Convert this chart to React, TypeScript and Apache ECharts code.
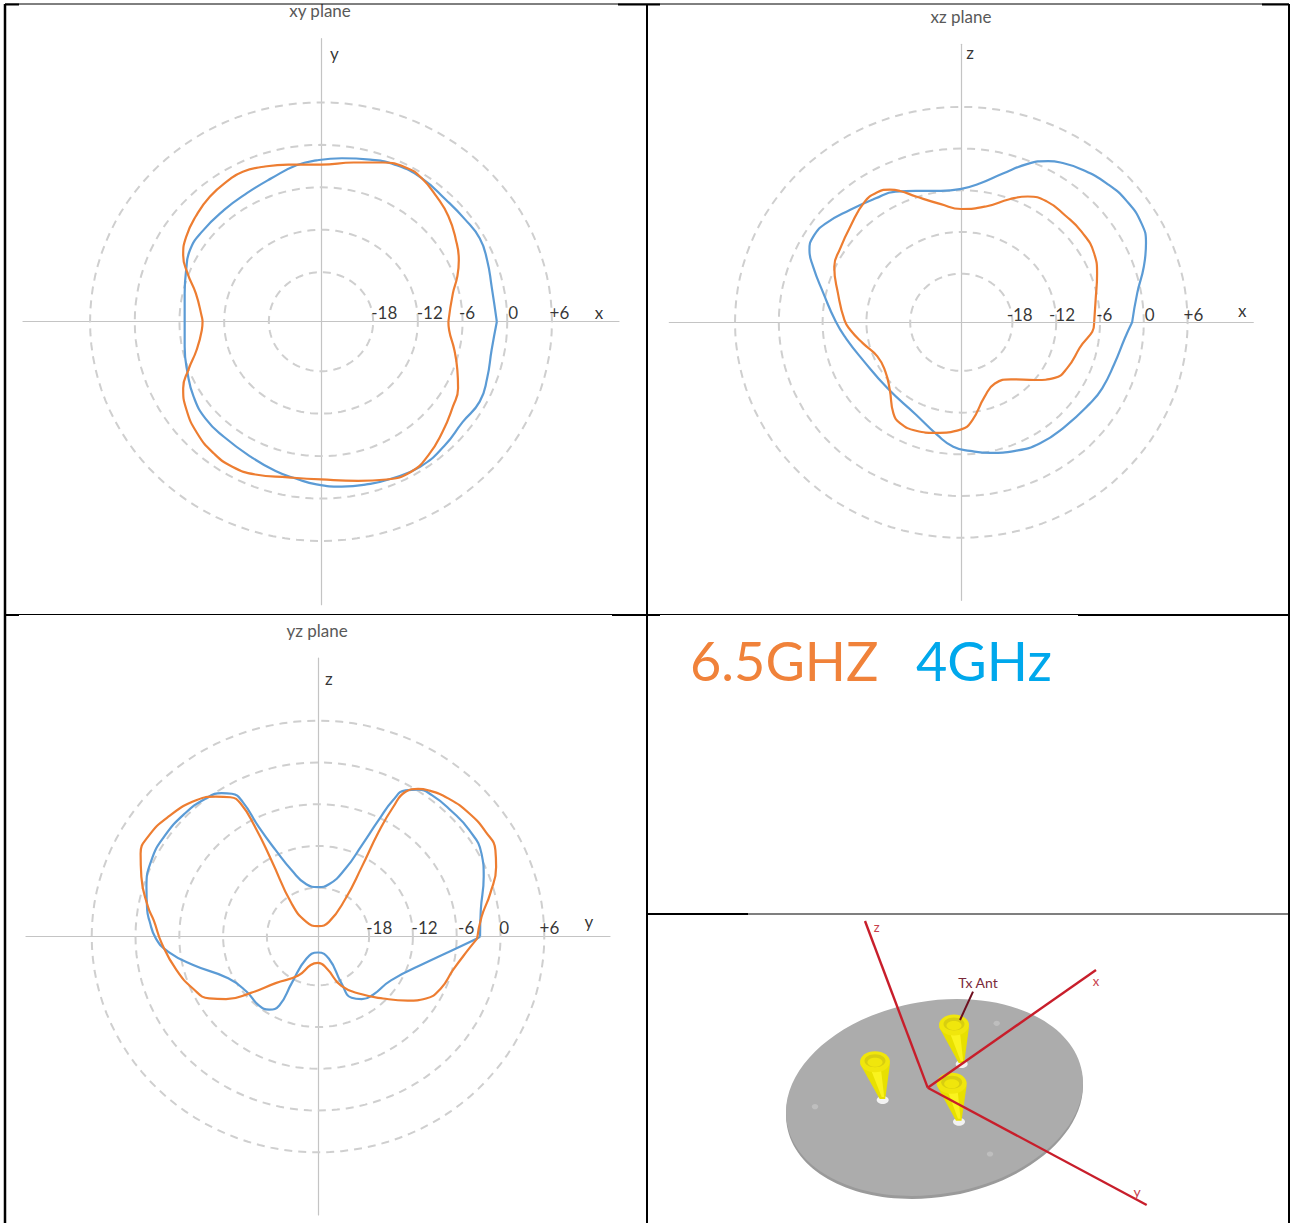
import React, { useEffect, useRef } from "react";
import * as echarts from "echarts";

// Every curve point is [x, y] in dB above the -25 dB centre of the pattern.
const xyBlue = [[23.6,0],[22.9,5.0],[22.3,8.7],[21.3,11.8],[19.3,14.5],[16.8,17.2],[13.5,20.3],[9.9,22.2],[6.6,22.9],[2.8,23.1],[-0.6,22.8],[-3.3,22.1],[-6.6,20.3],[-9.9,18.2],[-13.0,15.8],[-16.0,12.7],[-17.6,10.1],[-18.1,7.3],[-18.3,4.0],[-18.3,0],[-18.3,-3.5],[-17.9,-7.3],[-17.1,-10.6],[-15.5,-13.7],[-13.0,-16.3],[-9.4,-19.1],[-6.1,-21.1],[-3.3,-22.2],[-0.6,-23.0],[2.8,-23.3],[6.1,-23.0],[9.4,-22.2],[13.3,-20.5],[16.6,-17.5],[19.0,-14.2],[21.3,-11.3],[22.3,-8.0],[22.9,-4.0],[23.6,0]];
const xyOrange = [[17.1,0],[17.7,4.0],[18.3,6.4],[18.5,8.7],[18.1,11.6],[17.1,14.9],[15.5,17.7],[13.5,20.3],[11.6,21.7],[8.3,22.5],[4.4,22.5],[0,22.2],[-4.4,22.2],[-7.7,21.9],[-10.5,21.2],[-12.4,20.0],[-14.9,17.7],[-16.8,14.9],[-18.1,12.0],[-18.5,9.4],[-17.9,6.8],[-16.8,4.0],[-16.0,0.7],[-15.9,0],[-16.0,-1.2],[-16.7,-4.0],[-17.8,-6.8],[-18.5,-9.4],[-18.1,-12.3],[-16.6,-15.8],[-14.4,-18.6],[-11.9,-20.5],[-8.8,-21.6],[-4.4,-22.0],[0,-22.3],[5.0,-22.5],[8.8,-22.3],[12.1,-21.2],[14.4,-18.9],[16.3,-15.6],[17.7,-12.0],[18.4,-9.4],[18.3,-6.8],[17.9,-4.0],[17.2,-1.2],[17.1,0]];
const xzBlue = [[23.4,0],[24.1,4.2],[25.0,8.0],[25.3,11.4],[24.7,14.2],[22.7,17.4],[19.9,20.0],[16.5,22.0],[13.6,23.0],[11.9,23.2],[9.1,22.8],[5.7,21.4],[2.6,20.0],[0,19.2],[-2.8,18.9],[-6.2,18.9],[-9.0,18.8],[-11.8,17.8],[-15.2,16.2],[-18.6,14.2],[-20.3,12.3],[-20.8,10.4],[-20.3,8.0],[-18.9,4.2],[-17.2,0.1],[-15.8,-2.3],[-13.5,-5.4],[-10.1,-9.5],[-6.2,-13.3],[-3.3,-16.2],[-1.1,-17.9],[1.2,-18.5],[4.0,-18.8],[7.4,-18.5],[10.8,-17.4],[14.2,-15.0],[17.6,-11.7],[19.3,-9.5],[21.0,-5.9],[22.4,-2.3],[23.4,0]];
const xzOrange = [[18.2,0],[18.4,3.2],[18.6,7.0],[18.2,9.9],[16.5,13.0],[14.2,15.4],[11.7,17.4],[9.1,18.1],[6.6,17.7],[3.5,16.7],[0,16.3],[-2.8,17.0],[-6.2,18.1],[-8.4,18.9],[-9.8,19.1],[-11.5,18.7],[-13.2,17.4],[-15.2,13.8],[-16.6,10.6],[-17.4,8.0],[-16.9,4.2],[-16.0,0.3],[-15.2,-1.1],[-13.5,-3.0],[-11.5,-4.9],[-10.4,-7.1],[-9.8,-9.7],[-9.3,-13.1],[-8.4,-14.5],[-6.2,-15.6],[-3.6,-15.9],[0,-15.4],[1.5,-14.1],[3.2,-10.7],[4.6,-8.8],[6.8,-8.2],[10.2,-8.3],[12.8,-8.0],[14.5,-6.6],[16.2,-3.7],[18.2,-0.1],[18.2,0]];
const yzBlue = [[22.2,0],[22.3,3.8],[22.7,8.6],[22.4,11.9],[20.7,15.3],[18.2,18.1],[15.6,20.3],[13.7,21.1],[12.0,21.0],[10.3,19.6],[8.3,16.7],[6.0,13.1],[3.8,9.8],[1.5,7.5],[0,7.1],[-1.6,7.5],[-3.6,9.5],[-5.8,12.4],[-8.1,15.7],[-10.3,19.3],[-11.8,20.5],[-13.2,20.6],[-15.4,19.8],[-18.2,17.7],[-21.1,14.3],[-22.8,11.0],[-23.5,7.1],[-23.4,3.8],[-23.1,2.3],[-22.2,-0.3],[-20.5,-2.2],[-17.1,-4.1],[-12.3,-6.0],[-9.8,-7.9],[-8.1,-9.9],[-6.7,-10.5],[-5.3,-9.9],[-3.6,-6.7],[-1.6,-3.2],[0,-2.3],[1.5,-3.2],[3.2,-6.7],[4.6,-8.8],[6.0,-9.0],[7.5,-8.4],[10.0,-6.3],[15.1,-3.6],[21.8,-0.3],[22.2,0]];
const yzOrange = [[21.8,-0.3],[22.4,2.8],[23.6,6.2],[24.4,10.0],[24.3,12.4],[23.0,15.0],[20.7,17.7],[17.9,19.8],[15.1,21.0],[13.7,21.2],[12.0,20.8],[10.3,18.6],[8.3,15.0],[6.0,10.0],[3.8,5.5],[1.5,2.1],[0,1.5],[-1.6,2.1],[-3.6,4.7],[-6.4,11.0],[-8.6,15.7],[-10.6,19.1],[-12.0,20.0],[-14.0,20.1],[-16.6,19.6],[-20.5,17.2],[-23.3,14.3],[-24.3,11.9],[-24.2,8.6],[-23.3,4.3],[-22.5,2.3],[-21.4,-1.0],[-19.4,-4.8],[-17.1,-7.5],[-14.9,-8.9],[-12.6,-9.0],[-9.2,-8.1],[-5.8,-6.7],[-2.7,-5.6],[-1.0,-4.1],[0,-3.8],[1.2,-4.6],[3.2,-7.1],[6.0,-8.3],[8.9,-8.9],[12.3,-9.2],[14.8,-8.9],[16.8,-7.5],[18.5,-4.8],[20.5,-2.0],[21.8,-0.3]];

const ringLevels = [-18, -12, -6, 0, 6];
const centreLevel = -25;
const tickLabels = ["-18", "-12", "-6", "0", "+6"];
const xyTickX = [8.5, 14.6, 19.6, 25.8, 32.0];
const xzTickX = [8.0, 13.8, 19.6, 25.8, 31.8];
const yzTickX = [8.4, 14.6, 20.3, 25.5, 31.7];
const planeTitles = ["xy plane", "xz plane", "yz plane"];
const legendNames = ["6.5GHZ", "4GHz"];

const ORANGE = "#ED7D31";
const BLUE = "#5B9BD5";
const FONT = "Lato, 'Noto Sans', sans-serif";

const ring = (level: number) => {
  const r = level - centreLevel;
  const pts: number[][] = [];
  for (let a = 0; a <= 360; a += 3) {
    pts.push([r * Math.cos((a * Math.PI) / 180), r * Math.sin((a * Math.PI) / 180)]);
  }
  return pts;
};

const plane = (
  i: number,
  blue: number[][],
  orange: number[][],
  tickX: number[],
  tickY: number,
  hName: string,
  hPos: number[],
  vName: string,
  vPos: number[],
) => {
  const base = { xAxisIndex: i, yAxisIndex: i, animation: false, silent: true };
  const series: any[] = ringLevels.map((l) => ({
    ...base,
    type: "line",
    name: `${planeTitles[i]} ${tickLabels[ringLevels.indexOf(l)]} dB`,
    data: ring(l),
    showSymbol: false,
    symbol: "none",
    lineStyle: { color: "#CFCFCF", width: 2, type: [8, 6] },
    z: 2,
  }));
  series.push({
    ...base,
    type: "line",
    name: `${planeTitles[i]} 4GHz`,
    data: blue,
    smooth: 0.5,
    symbol: "none",
    lineStyle: { color: BLUE, width: 2.2 },
    z: 3,
  });
  series.push({
    ...base,
    type: "line",
    name: `${planeTitles[i]} 6.5GHz`,
    data: orange,
    smooth: 0.5,
    symbol: "none",
    lineStyle: { color: ORANGE, width: 2.2 },
    z: 4,
  });
  const labels = tickX.map((x, k) => ({ value: [x, tickY], text: tickLabels[k] }));
  labels.push({ value: hPos, text: hName }, { value: vPos, text: vName });
  series.push({
    ...base,
    type: "scatter",
    symbolSize: 0,
    data: labels,
    z: 5,
    label: {
      show: true,
      position: "inside",
      formatter: (p: any) => p.data.text,
      color: "#000",
      fontFamily: FONT,
      fontSize: 17,
    },
  });
  return series;
};

const axis = (gridIndex: number) => ({
  type: "value",
  gridIndex,
  min: -40,
  max: 40,
  axisLine: { onZero: true, lineStyle: { color: "#C4C4C4", width: 1.2 } },
  axisTick: { show: false },
  axisLabel: { show: false },
  splitLine: { show: false },
});

const line = (x1: number, y1: number, x2: number, y2: number, w: number, c = "#000") => ({
  type: "line",
  silent: true,
  shape: { x1, y1, x2, y2 },
  style: { stroke: c, lineWidth: w },
  z: 10,
});

const disc = (cx: number, cy: number, rx: number, ry: number, fill: string, rot = 0, z = 20) => ({
  type: "ellipse",
  silent: true,
  x: cx,
  y: cy,
  rotation: rot,
  shape: { cx: 0, cy: 0, rx, ry },
  style: { fill },
  z,
});

const cone = (cx: number, cy: number, tx: number, ty: number) => [
  disc(tx, ty + 1, 6, 4, "#F2F2F2", 0, 21),
  {
    type: "polygon",
    silent: true,
    shape: { points: [[cx - 15, cy + 2], [cx + 15, cy + 2], [tx + 2.5, ty], [tx - 3, ty]] },
    style: { fill: "#E8E000" },
    z: 22,
  },
  {
    type: "polygon",
    silent: true,
    shape: { points: [[cx - 4, cy + 8], [cx + 6, cy + 8], [tx + 1.5, ty - 2], [tx - 1, ty - 2]] },
    style: { fill: "#FAF31E" },
    z: 22,
  },
  disc(cx, cy, 15, 10.5, "#F0E60C", 0, 23),
  disc(cx, cy - 1, 10.5, 6.5, "#D8CE10", 0, 23),
  disc(cx, cy + 0.5, 7.5, 4.5, "#F0E60C", 0, 23),
];

const label3d = (text: string, x: number, y: number, size: number, fill: string) => ({
  type: "text",
  silent: true,
  x,
  y,
  style: { text, fill, font: `${size}px ${FONT}`, textAlign: "center", textVerticalAlign: "middle" },
  z: 30,
});

export default function App() {
  const ref = useRef<HTMLDivElement>(null);
  useEffect(() => {
    document.body.style.margin = "0";
    const chart = echarts.init(ref.current!, undefined, { renderer: "svg" });
    const title = (text: string, left: number, cy: number) => ({
      text,
      left,
      top: cy - 10,
      padding: 0,
      textAlign: "center",
      textStyle: { color: "#595959", fontSize: 17, fontWeight: "normal", fontFamily: FONT },
    });
    chart.setOption({
      animation: false,
      backgroundColor: "#fff",
      title: [title(planeTitles[0], 320, 11.7), title(planeTitles[1], 961, 18.3), title(planeTitles[2], 317, 631.7)],
      grid: [
        { left: 23, width: 596, top: 38.7, height: 566 },
        { left: 669.3, width: 584, top: 44.3, height: 556 },
        { left: 26, width: 584, top: 658, height: 557 },
      ],
      xAxis: [axis(0), axis(1), axis(2)],
      yAxis: [axis(0), axis(1), axis(2)],
      series: [
        ...plane(0, xyBlue, xyOrange, xyTickX, 1.25, "x", [37.3, 1.35], "y", [1.8, 37.9]),
        ...plane(1, xzBlue, xzOrange, xzTickX, 1.1, "x", [38.5, 1.65], "z", [1.2, 38.8]),
        ...plane(2, yzBlue, yzOrange, yzTickX, 1.3, "y", [37.1, 2.15], "z", [1.5, 37.0]),
      ],
      graphic: [
        // table rules
        line(5, 4, 5, 1223, 2.5),
        line(647, 4, 647, 1223, 2),
        line(1289, 4, 1289, 1223, 2),
        line(5, 4, 1289, 4, 1),
        line(5, 614.5, 1289, 614.5, 1),
        line(647, 914, 1289, 914, 1.2),
        line(5, 4.5, 19, 4.5, 2),
        line(618, 4.5, 660, 4.5, 2),
        line(1262, 4.5, 1289, 4.5, 2),
        line(5, 615, 19, 615, 2),
        line(612, 615, 660, 615, 2),
        line(1078, 615, 1289, 615, 1.8),
        line(647, 914, 748, 914, 2),
        // legend words
        {
          type: "text",
          silent: true,
          x: 690,
          y: 687,
          style: { text: legendNames[0], fill: "#F0823A", font: `54px ${FONT}`, textAlign: "left", textVerticalAlign: "bottom" },
          z: 30,
        },
        {
          type: "text",
          silent: true,
          x: 916,
          y: 687,
          style: { text: legendNames[1], fill: "#00A8EC", font: `54px ${FONT}`, textAlign: "left", textVerticalAlign: "bottom" },
          z: 30,
        },
        // antenna sketch
        disc(934.5, 1100.5, 149.8, 96.5, "#9A9A9A", (9.8 * Math.PI) / 180, 18),
        disc(934.5, 1097.5, 149.8, 96.5, "#ACACAC", (9.8 * Math.PI) / 180, 19),
        disc(996.7, 1023.3, 3.2, 2.6, "#BEBEBE"),
        disc(815, 1106.7, 3.2, 2.6, "#BEBEBE"),
        disc(990, 1154, 3.2, 2.6, "#BEBEBE"),
        ...cone(954, 1025, 961.7, 1063),
        ...cone(875, 1061.7, 882.7, 1099),
        ...cone(951.7, 1083.3, 959, 1120.7),
        { ...line(927.7, 1087.7, 865, 921, 2.4, "#C81E2B"), z: 25 },
        { ...line(927.7, 1087.7, 1096, 970, 2.4, "#C81E2B"), z: 25 },
        { ...line(927.7, 1087.7, 1146.7, 1205, 2.4, "#C81E2B"), z: 25 },
        { ...line(973, 991.7, 960, 1020, 2, "#6E0E1E"), z: 25 },
        label3d("z", 876.7, 927, 13, "#C8404C"),
        label3d("x", 1096, 981, 13, "#C8404C"),
        label3d("y", 1137, 1191.7, 14, "#C8404C"),
        label3d("Tx Ant", 978, 982.7, 14, "#7A2A3A"),
      ],
    });
    return () => chart.dispose();
  }, []);
  return <div ref={ref} style={{ width: 1290, height: 1223 }} />;
}
